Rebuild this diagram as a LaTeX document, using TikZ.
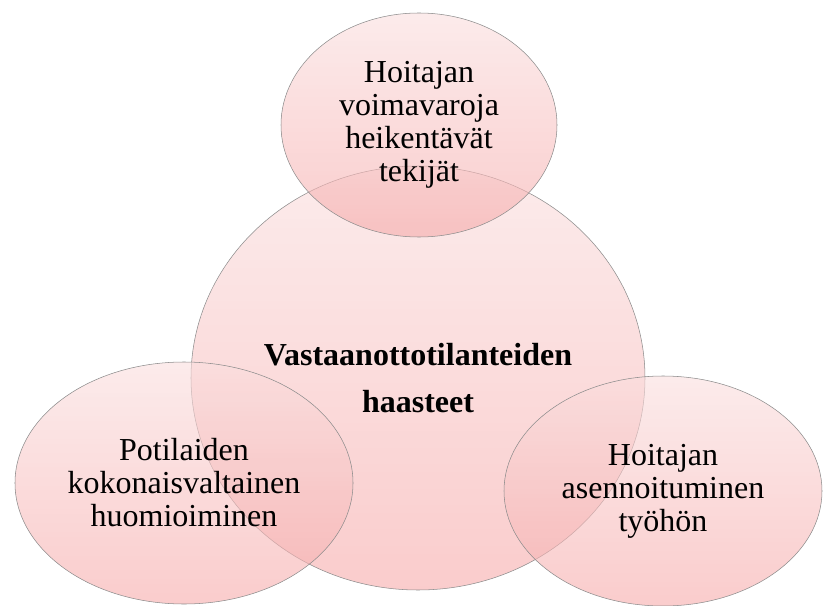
\documentclass[tikz,border=0pt]{standalone}
\usepackage{fontspec}
\setmainfont{Liberation Serif}
\usetikzlibrary{shapes.geometric}
\definecolor{pinktop}{RGB}{250,222,222}
\definecolor{pinkbot}{RGB}{246,170,170}

\begin{document}
\begin{tikzpicture}[x=0.75pt, y=-0.75pt,
			bubble/.style={ellipse,draw=gray!90,line width=0.4pt,inner sep=0pt,
				top color=pinktop,bottom color=pinkbot,fill opacity=0.6,text opacity=1,
				align=center,font=\fontsize{24}{24.75}\selectfont}]
			
			\useasboundingbox (0,0) rectangle (824,606);
			
			\node[bubble,minimum width=340.5pt,minimum height=318pt,
				font=\fontsize{24}{35.25}\selectfont\bfseries] (haasteet) at (418,378) {Vastaanottotilanteiden\\haasteet};
			\node[bubble,minimum width=207pt,minimum height=168pt] (voimavarat) at (419,125) {Hoitajan\\voimavaroja\\heikentävät\\tekijät};
			\node[bubble,minimum width=253.5pt,minimum height=181.5pt] (potilaat) at (184,483) {Potilaiden\\kokonaisvaltainen\\huomioiminen};
			\node[bubble,minimum width=238.5pt,minimum height=172.5pt] (asenne) at (663,491) {Hoitajan\\asennoituminen\\työhön};
			\end{tikzpicture}
\end{document}
